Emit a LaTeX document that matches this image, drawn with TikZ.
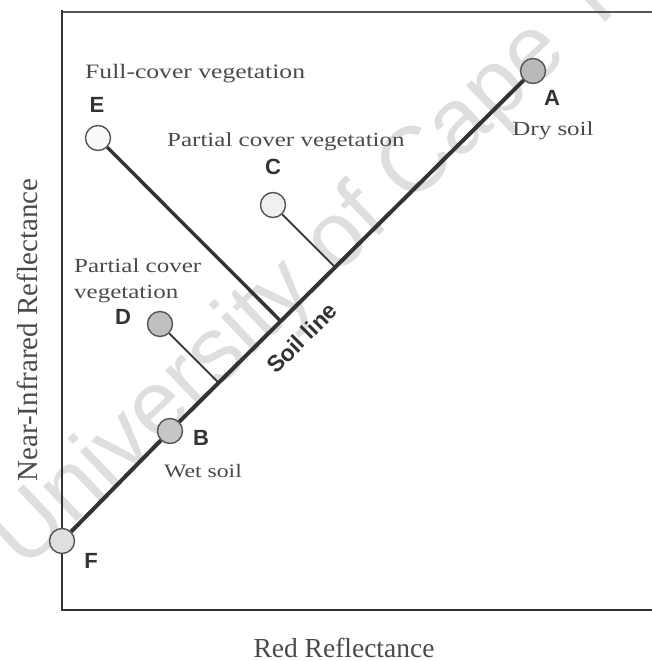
\documentclass[tikz,border=0pt]{standalone}
\usepackage{fontspec}
\setmainfont{Liberation Serif}
\setsansfont{Liberation Sans}
\newfontfamily\lblfont[FakeStretch=1.25]{Liberation Serif}
\usetikzlibrary{calc}
\definecolor{ink}{HTML}{333333}
\definecolor{txt}{HTML}{4A4A4A}
\definecolor{rim}{HTML}{555555}
\definecolor{wm}{HTML}{DEDEDE}
\newcommand{\fsz}[1]{\fontsize{#1}{#1}\selectfont}
\tikzset{
  pt/.style={circle, draw=rim, line width=1.4pt, minimum size=25pt, inner sep=0pt},
  letter/.style={font=\sffamily\bfseries\fsz{22}, text=ink, inner sep=0pt},
  lbl/.style={font=\lblfont\fsz{20}, text=txt, inner sep=0pt},
  soil/.style={draw=ink, line width=4pt},
  perpthick/.style={draw=ink, line width=3.4pt},
  perpthin/.style={draw=ink, line width=1.8pt},
  axis/.style={draw=ink, line width=2.5pt, line join=miter},
  topline/.style={draw=rim, line width=1.2pt},
  wmark/.style={font=\sffamily\fsz{92}, text=wm, inner sep=0pt}
}
\begin{document}
\begin{tikzpicture}[x=1pt,y=-1pt]
\useasboundingbox (0,0) rectangle (652,661);
\clip (0,0) rectangle (652,661);
% watermark
\node[wmark, anchor=base west, rotate=43.4] (wmk) at (24,572) {University of Cape Town};
% axes
\coordinate (ytop) at (62,10);
\coordinate (org) at (62,610);
\coordinate (xend) at (652,610);
\coordinate (tl) at (62,12);
\coordinate (tr) at (652,12);
\draw[topline] (tl) -- (tr);
\draw[axis] (ytop) -- (org) -- (xend);
% points
\node[pt, fill=gray!55] (A) at (533,71) {};
\node[pt, fill=gray!45] (B) at (170,431) {};
\node[pt, fill=gray!12] (C) at (273,205) {};
\node[pt, fill=gray!50] (D) at (160,324) {};
\node[pt, fill=gray!4] (E) at (98,138) {};
\node[pt, fill=gray!25] (F) at (62,541) {};
% soil line
\draw[soil] (F) -- (B);
\draw[soil] (B) -- (A);
% perpendiculars
\coordinate (fE) at ($(F)!(E)!(A)$);
\coordinate (fC) at ($(F)!(C)!(A)$);
\coordinate (fD) at ($(F)!(D)!(A)$);
\draw[perpthick] (E) -- (fE);
\draw[perpthin] (C) -- (fC);
\draw[perpthin] (D) -- (fD);
% letters
\node[letter] (lA) at (552,98) {A};
\node[letter] (lB) at (201,438) {B};
\node[letter] (lC) at (273,167) {C};
\node[letter] (lD) at (123,317) {D};
\node[letter] (lE) at (97,105) {E};
\node[letter] (lF) at (91,561) {F};
% labels
\node[lbl, font=\lblfont\fsz{20.5}, anchor=base west] (tE) at (85,78) {Full-cover vegetation};
\node[lbl, anchor=base west] (tC) at (167,146) {Partial cover vegetation};
\node[lbl, anchor=base west] (tD1) at (74,272) {Partial cover};
\node[lbl, anchor=base west] (tD2) at (74,298) {vegetation};
\node[lbl, anchor=base] (tA) at (553,135) {Dry soil};
\node[lbl, font=\lblfont\fsz{19}, anchor=base] (tB) at (203,477) {Wet soil};
\node[font=\sffamily\bfseries\fsz{23}, text=ink, rotate=45, inner sep=0pt] (sl) at (302,338) {Soil line};
% axis titles
\node[font=\rmfamily\fsz{29}, text=txt, rotate=90, inner sep=0pt] (ylab) at (27,330) {Near-Infrared Reflectance};
\node[font=\rmfamily\fsz{27.5}, text=txt, anchor=base, inner sep=0pt] (xlab) at (344,657) {Red Reflectance};
\end{tikzpicture}
\end{document}
